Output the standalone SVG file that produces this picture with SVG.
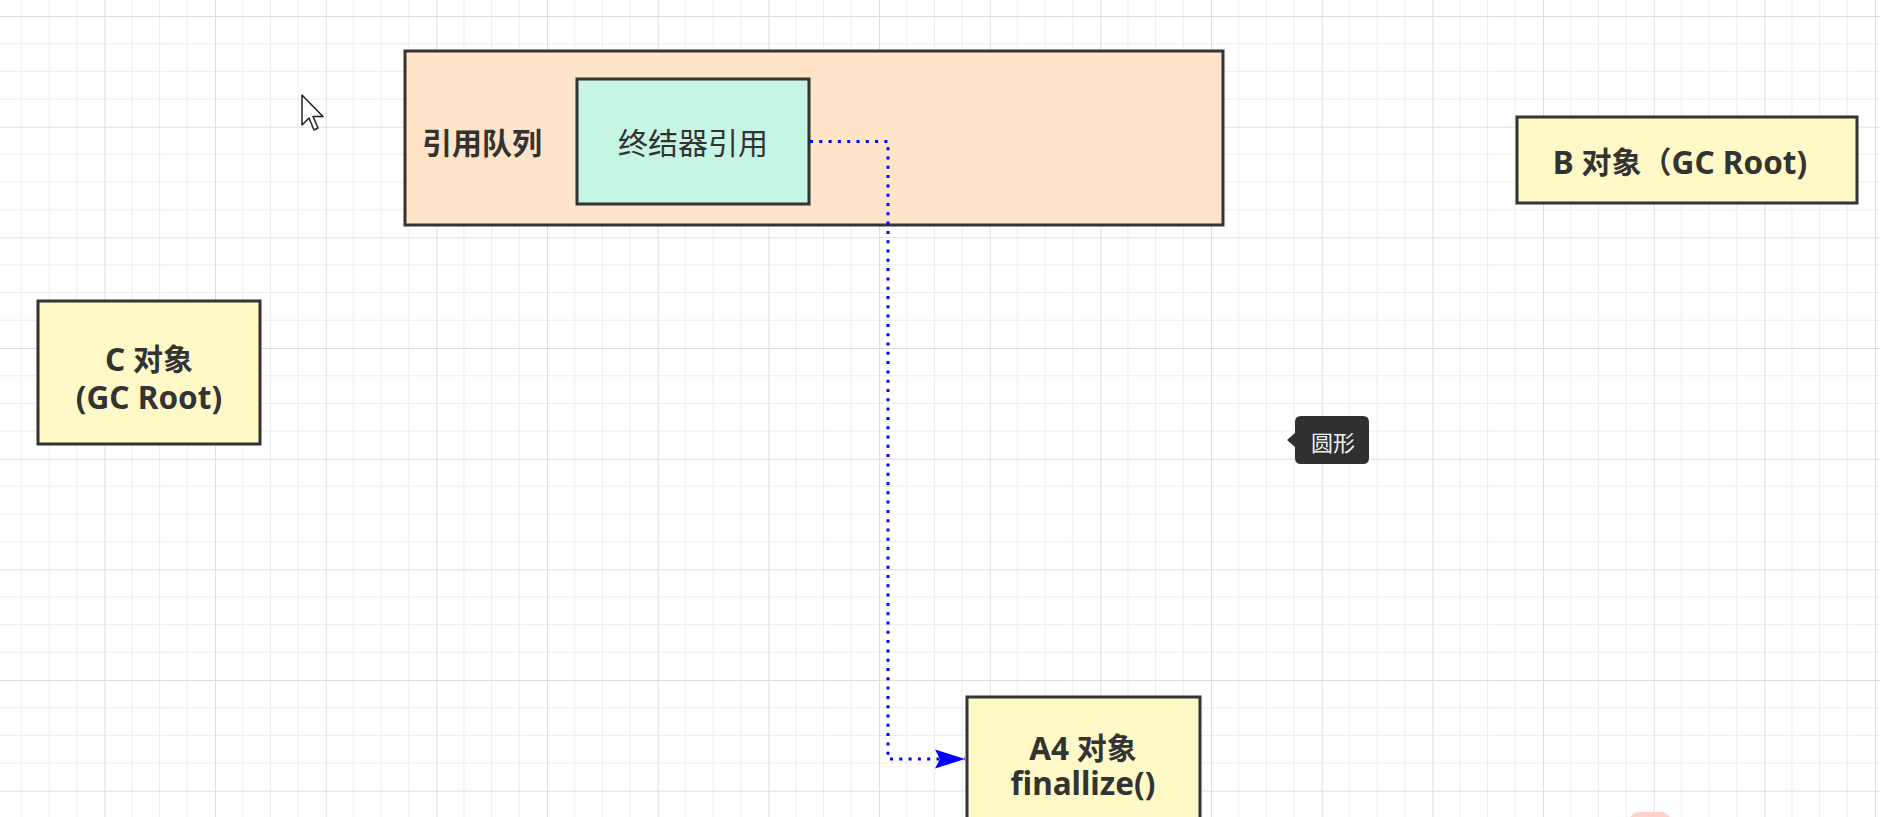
<svg xmlns="http://www.w3.org/2000/svg" width="1880" height="817" viewBox="0 0 1880 817">
  <defs>
    <pattern id="grid" x="-6.333" y="16" width="110.667" height="110.667" patternUnits="userSpaceOnUse">
      <path d="M27.667,0 V110.667 M55.333,0 V110.667 M83,0 V110.667 M0,27.667 H110.667 M0,55.333 H110.667 M0,83 H110.667" stroke="#ececec" stroke-width="1" fill="none"/>
      <path d="M0.5,0 V110.667 M0,0.5 H110.667" stroke="#dedede" stroke-width="1" fill="none"/>
    </pattern>
    <marker id="arrow" markerUnits="userSpaceOnUse" markerWidth="32" markerHeight="22" refX="30" refY="10" orient="auto" viewBox="0 0 32 22">
      <path d="M0,0.5 L30,10 L0,19.5 L5,10 Z" fill="#0000ff"/>
    </marker>
    <style>
      .box { stroke: #333333; stroke-width: 3; }
      .obj { fill: #fff9c8; }
      .t { font-family: "Noto Sans", "Noto Sans CJK SC", sans-serif; fill: #333333; text-anchor: middle; dominant-baseline: central; }
      .b { font-weight: bold; font-size: 30px; }
      .lat { font-size: 31.5px; }
      .conn { fill: none; stroke: #0000ff; stroke-width: 3; stroke-dasharray: 3 6.3; }
    </style>
  </defs>

  <rect x="0" y="0" width="1880" height="817" fill="#ffffff"/>
  <rect x="0" y="0" width="1880" height="817" fill="url(#grid)"/>

  <g id="queue">
    <rect class="box" x="405" y="51" width="818" height="174" fill="#ffe4c8"/>
    <text class="t b" x="482" y="142">引用队列</text>
  </g>

  <g id="finalizer-ref">
    <rect class="box" x="577" y="79" width="232" height="125" fill="#c6f5e3"/>
    <text class="t" x="693" y="142" font-size="30">终结器引用</text>
  </g>

  <g id="b-object">
    <rect class="box obj" x="1517" y="117" width="340" height="86"/>
    <text class="t b" x="1680" y="161"><tspan class="lat">B</tspan> 对象（<tspan class="lat">GC Root)</tspan></text>
  </g>

  <g id="c-object">
    <rect class="box obj" x="38" y="301" width="222" height="143"/>
    <text class="t b" x="149" y="358"><tspan class="lat">C</tspan> 对象</text>
    <text class="t b lat" x="149" y="396">(GC Root)</text>
  </g>

  <g id="a4-object">
    <rect class="box obj" x="967" y="697" width="233" height="140"/>
    <text class="t b" x="1083" y="747"><tspan class="lat">A4</tspan> 对象</text>
    <text class="t b lat" x="1083" y="782">finallize()</text>
  </g>

  <g id="connectors">
    <path class="conn" d="M810,141.5 H888 V759 H965" marker-end="url(#arrow)"/>
  </g>

  <g id="tooltip">
    <path d="M1301,416 H1363 Q1369,416 1369,422 V458 Q1369,464 1363,464 H1301 Q1295,464 1295,458 V447 L1287,440 L1295,433 V422 Q1295,416 1301,416 Z" fill="#303030"/>
    <text x="1333" y="441" font-family="Noto Sans CJK SC, sans-serif" font-size="22" fill="#eef0f5" text-anchor="middle" dominant-baseline="central">圆形</text>
  </g>

  <g id="cursor">
    <path d="M302,95 L302,125 L309,118 L314,130 L318,128 L313,116.5 L323,116.5 Z" fill="#ffffff" stroke="#222222" stroke-width="1.5" stroke-linejoin="round"/>
  </g>

  <rect x="1629" y="812" width="42" height="20" rx="10" fill="#ffd2c8"/>
</svg>
